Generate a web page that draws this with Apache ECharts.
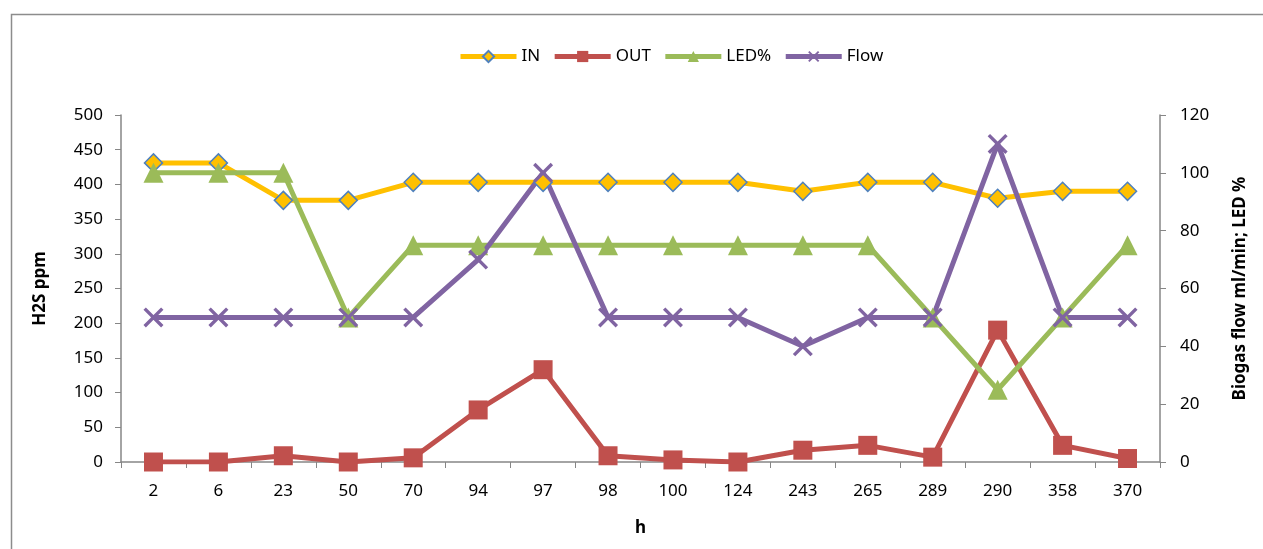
<!DOCTYPE html>
<html>
<head>
<meta charset="utf-8">
<script src="https://cdn.jsdelivr.net/npm/echarts@6/dist/echarts.min.js"></script>
<style>
html,body{margin:0;padding:0;background:#fff;}
#c{width:1263px;height:549px;}
</style>
</head>
<body>
<div id="c"></div>
<script>
var categories = ['2','6','23','50','70','94','97','98','100','124','243','265','289','290','358','370'];
var inVals   = [431,431,377,377,403,403,403,403,403,403,390,403,403,380,390,390];
var outVals  = [0,0,9,0,6,75,133,9,3,0,17,24,7,190,24,5];
var ledVals  = [100,100,100,50,75,75,75,75,75,75,75,75,50,25,50,75];
var flowVals = [50,50,50,50,50,70,100,50,50,50,40,50,50,110,50,50];
var leftTicks = [0,50,100,150,200,250,300,350,400,450,500];
var rightTicks = [0,20,40,60,80,100,120];

var FONT = 'Noto Sans';
var FS = 17;
var crossPath = 'path://M0,1.2L1.2,0L10,8.8L8.8,10Z M8.8,0L10,1.2L1.2,10L0,8.8Z';

var chart = echarts.init(document.getElementById('c'));
var axisGray = '#868686';
chart.setOption({
  animation: false,
  textStyle: {fontFamily: FONT},
  graphic: [{
    type: 'rect', left: 9, top: 12,
    shape: {width: 1253, height: 545},
    style: {fill: 'none', stroke: '#8c8c8c', lineWidth: 1.5},
    silent: true
  }],
  legend: {
    top: 43, left: 453,
    itemWidth: 56, itemHeight: 14, itemGap: 12,
    lineStyle: {width: 5},
    textStyle: {fontFamily: FONT, fontSize: FS, color: '#000'},
    data: ['IN','OUT','LED%','Flow']
  },
  grid: {left: 121, right: 103, top: 115, bottom: 87},
  xAxis: {
    type: 'category',
    data: categories,
    boundaryGap: true,
    name: 'h', nameLocation: 'middle', nameGap: 58,
    nameTextStyle: {fontFamily: FONT, fontSize: FS, fontWeight: 'bold', color: '#000'},
    axisLine: {lineStyle: {color: axisGray, width: 1.5}},
    axisTick: {show: true, length: 6, lineStyle: {color: axisGray}},
    axisLabel: {fontFamily: FONT, fontSize: FS, color: '#000', margin: 21}
  },
  yAxis: [{
    type: 'value', min: leftTicks[0], max: leftTicks[leftTicks.length-1], interval: 50,
    name: 'H2S ppm', nameLocation: 'middle', nameGap: 72, nameRotate: 90,
    nameTextStyle: {fontFamily: FONT, fontSize: FS, fontWeight: 'bold', color: '#000'},
    axisLine: {show: true, lineStyle: {color: axisGray, width: 1.5}},
    axisTick: {show: true, length: 6, lineStyle: {color: axisGray}},
    splitLine: {show: false},
    axisLabel: {fontFamily: FONT, fontSize: FS, color: '#000', margin: 18}
  },{
    type: 'value', min: rightTicks[0], max: rightTicks[rightTicks.length-1], interval: 20,
    position: 'right',
    name: 'Biogas flow ml/min; LED %', nameLocation: 'middle', nameGap: 72, nameRotate: 90,
    nameTextStyle: {fontFamily: FONT, fontSize: FS, fontWeight: 'bold', color: '#000'},
    axisLine: {show: true, lineStyle: {color: axisGray, width: 1.5}},
    axisTick: {show: true, length: 6, lineStyle: {color: axisGray}},
    splitLine: {show: false},
    axisLabel: {fontFamily: FONT, fontSize: FS, color: '#000', margin: 20}
  }],
  series: [{
    name: 'IN', type: 'line', yAxisIndex: 0, data: inVals,
    symbol: 'diamond', symbolSize: 18,
    lineStyle: {color: '#FFC000', width: 5},
    itemStyle: {color: '#FFC000', borderColor: '#4F81BD', borderWidth: 1.5}
  },{
    name: 'OUT', type: 'line', yAxisIndex: 0, data: outVals,
    symbol: 'rect', symbolSize: 19,
    lineStyle: {color: '#C0504D', width: 5},
    itemStyle: {color: '#C0504D', borderColor: '#C0504D', borderWidth: 0}
  },{
    name: 'LED%', type: 'line', yAxisIndex: 1, data: ledVals,
    symbol: 'triangle', symbolSize: 20,
    lineStyle: {color: '#9BBB59', width: 5},
    itemStyle: {color: '#9BBB59', borderWidth: 0}
  },{
    name: 'Flow', type: 'line', yAxisIndex: 1, data: flowVals,
    symbol: crossPath, symbolSize: 20,
    lineStyle: {color: '#8064A2', width: 5},
    itemStyle: {color: '#8064A2', borderWidth: 0}
  }]
});
</script>
</body>
</html>
